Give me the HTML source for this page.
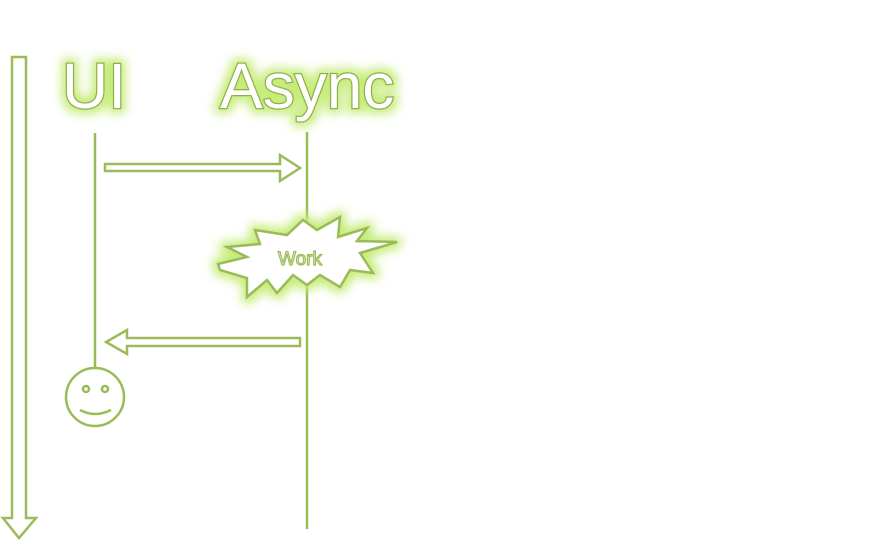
<!DOCTYPE html>
<html><head><style>html,body{margin:0;padding:0;background:#fff;width:890px;height:541px;overflow:hidden}</style></head>
<body>
<svg width="890" height="541" viewBox="0 0 890 541" xmlns="http://www.w3.org/2000/svg">
<defs>
<filter id="glow" x="-30%" y="-30%" width="160%" height="160%">
<feMorphology in="SourceAlpha" operator="dilate" radius="4" result="d"/>
<feGaussianBlur in="d" stdDeviation="5" result="b"/>
<feFlood flood-color="#c6ec7a" flood-opacity="1"/>
<feComposite in2="b" operator="in" result="g"/>
<feMerge><feMergeNode in="g"/><feMergeNode in="SourceGraphic"/></feMerge>
</filter>
</defs>
<g fill="none" stroke="#9bbb59" stroke-width="2.5">
<polygon points="12,57 26,57 26,518 36,518 19,538 3,518 12,518" fill="#fff"/>
<line x1="95" y1="133" x2="95" y2="369"/>
<line x1="307" y1="132" x2="307" y2="529"/>
<polygon points="105,164 280,164 280,155 300,168 280,181 280,171 105,171" fill="#fff"/>
<polygon points="300,338 127,338 127,330 106,342 127,354 127,346 300,346" fill="#fff"/>
<circle cx="95" cy="397" r="29" fill="#fff"/>
<circle cx="86" cy="389" r="3"/>
<circle cx="105" cy="389" r="3"/>
<path d="M80,410 Q95,418 111,410"/>
</g>
<g filter="url(#glow)">
<polygon fill="#fff" stroke="#9bbb59" stroke-width="2.5" points="218,264 247,257 227,247 260,244 255,230 287,235 303,220 317,230 340,217 338,237 367,228 357,241 397,242 360,253 373,273 350,270 340,287 320,275 307,285 293,275 277,293 267,280 247,297 247,278 220,270"/>
<text x="300" y="265" text-anchor="middle" font-family="Liberation Sans, sans-serif" font-size="19" fill="#fff" stroke="#9bbb59" stroke-width="1.2">Work</text>
</g>
<g filter="url(#glow)" font-family="Liberation Sans, sans-serif" font-size="64" fill="#fff" stroke="#8fb04a" stroke-width="2.5" paint-order="stroke">
<text x="62" y="108">UI</text>
<text x="220" y="108">Async</text>
</g>
</svg>
</body></html>
